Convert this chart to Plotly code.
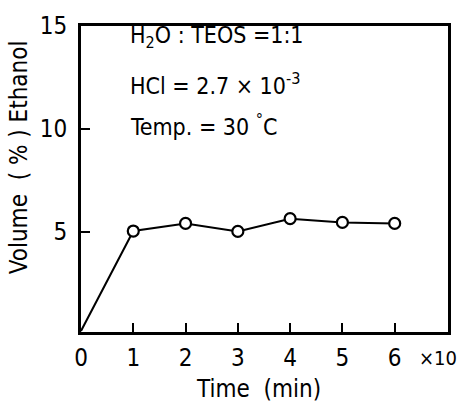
import plotly.graph_objects as go

time_x10min = [0, 1, 2, 3, 4, 5, 6]
ethanol_vol = [0.2, 5.05, 5.42, 5.03, 5.65, 5.47, 5.42]
x_ticks = [0, 1, 2, 3, 4, 5, 6]
y_ticks = [5, 10, 15]

FONT = "DejaVu Sans Condensed"

fig = go.Figure()
fig.add_trace(go.Scatter(
    x=time_x10min, y=ethanol_vol, mode="lines",
    line=dict(color="black", width=2), showlegend=False, hoverinfo="skip"))
fig.add_trace(go.Scatter(
    x=time_x10min[1:], y=ethanol_vol[1:], mode="markers",
    marker=dict(symbol="circle", size=11, color="white",
                line=dict(color="black", width=2.2)),
    showlegend=False))

axis_common = dict(showgrid=False, zeroline=False, showline=True, mirror=True,
                   linecolor="black", linewidth=3, ticks="inside", ticklen=9,
                   tickwidth=1.5, tickcolor="black",
                   tickfont=dict(family=FONT, size=24, color="black"))

fig.update_xaxes(range=[0, 7.02], tickvals=x_ticks, ticktext=[str(v) for v in x_ticks],
                 ticklabelstandoff=2, **axis_common)
fig.update_yaxes(range=[0.15, 15], tickvals=y_ticks, ticktext=[str(v) for v in y_ticks],
                 ticklabelstandoff=6, **axis_common)

ann_font = dict(family=FONT, size=23, color="black")
fig.add_annotation(xref="paper", yref="paper", x=0.127, y=0.965, xanchor="left", yanchor="middle",
                   text="H<sub>2</sub>O : TEOS =1:1", showarrow=False, font=ann_font)
fig.add_annotation(xref="paper", yref="paper", x=0.127, y=0.81, xanchor="left", yanchor="middle",
                   text="HCl = 2.7 × 10<sup>-3</sup>", showarrow=False, font=ann_font)
fig.add_annotation(xref="paper", yref="paper", x=0.127, y=0.675, xanchor="left", yanchor="middle",
                   text="Temp. = 30 <sup>°</sup>C", showarrow=False, font=ann_font)
# axis titles and multiplier
fig.add_annotation(xref="paper", yref="paper", x=0.485, y=-0.175, xanchor="center", yanchor="middle",
                   text="Time  (min)", showarrow=False, yshift=-3,
                   font=dict(family=FONT, size=24, color="black"))
fig.add_annotation(xref="paper", yref="paper", x=-0.17, y=0.57, xanchor="center", yanchor="middle",
                   text="Volume  ( % ) Ethanol", textangle=-90, showarrow=False,
                   font=dict(family=FONT, size=24, color="black"))
fig.add_annotation(xref="paper", yref="paper", x=1.03, y=-0.085, xanchor="right", yanchor="middle",
                   text="×10", showarrow=False, font=dict(family=FONT, size=20, color="black"))

fig.update_layout(width=463, height=401, margin=dict(l=81, r=12, t=14, b=69),
                  paper_bgcolor="white", plot_bgcolor="white")
fig.write_html("out.html")
